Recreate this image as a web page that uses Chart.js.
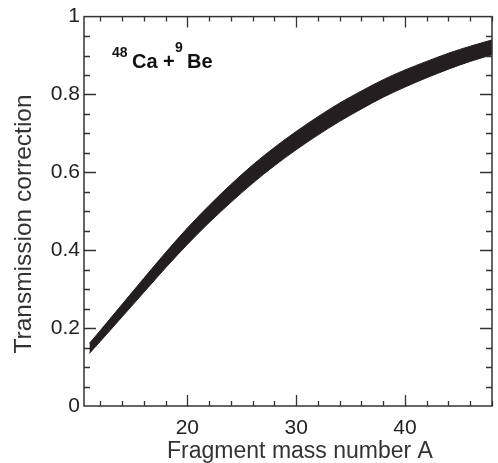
<!DOCTYPE html>
<html>
<head>
<meta charset="utf-8">
<script src="https://cdn.jsdelivr.net/npm/chart.js@4"></script>
<style>
  html, body { margin: 0; padding: 0; background: #fff; }
  #wrap { width: 498px; height: 463px; position: relative; }
</style>
</head>
<body>
<div id="wrap"><canvas id="chart"></canvas></div>
<script>
// values
const massA     = [11, 12, 14, 16, 18, 20, 22, 24, 26, 28, 30, 32, 34, 36, 38, 40, 42, 44, 46, 48];
const bandLower = [0.135, 0.166, 0.229, 0.292, 0.355, 0.415, 0.471, 0.523, 0.572, 0.617, 0.658, 0.696, 0.731, 0.763, 0.793, 0.819, 0.843, 0.865, 0.885, 0.902];
const bandUpper = [0.161, 0.194, 0.261, 0.328, 0.394, 0.457, 0.515, 0.569, 0.619, 0.664, 0.705, 0.743, 0.778, 0.809, 0.838, 0.863, 0.885, 0.906, 0.924, 0.940];
const xMajor = [20, 30, 40];
const yMajor = [0, 0.2, 0.4, 0.6, 0.8, 1];
const xTitle = "Fragment mass number A";
const yTitle = "Transmission correction";

const INK = "#231f20";
const AXIS = "#333";
const FONT = "'Liberation Sans', Arial, Helvetica, sans-serif";

// inward ticks on all four sides, axis titles, reaction label
const tickPlugin = {
  id: "inTicks",
  afterDraw(chart) {
    const { ctx, chartArea: a, scales: { x, y } } = chart;
    ctx.save();
    ctx.strokeStyle = AXIS;
    ctx.lineWidth = 1.3;
    ctx.beginPath();
    for (let v = 12; v <= 48; v += 2) {
      const px = Math.round(x.getPixelForValue(v)) + 0.5;
      const len = xMajor.includes(v) ? 11 : 5;
      ctx.moveTo(px, a.bottom); ctx.lineTo(px, a.bottom - len);
      ctx.moveTo(px, a.top);    ctx.lineTo(px, a.top + len);
    }
    for (let i = 1; i < 20; i++) {
      const py = Math.round(y.getPixelForValue(i * 0.05)) + 0.5;
      const len = i % 4 === 0 ? 12 : 6;
      ctx.moveTo(a.left, py);  ctx.lineTo(a.left + len, py);
      ctx.moveTo(a.right, py); ctx.lineTo(a.right - len, py);
    }
    ctx.stroke();
    ctx.lineWidth = 1.5;
    ctx.strokeRect(a.left, a.top, a.right - a.left, a.bottom - a.top);

    // axis titles (sit a little off-centre in the original)
    ctx.fillStyle = "#333";
    ctx.textAlign = "center";
    ctx.textBaseline = "middle";
    ctx.font = "23px " + FONT;
    ctx.fillText(xTitle, 300, 452);
    ctx.save();
    ctx.translate(24, 224);
    ctx.rotate(-Math.PI / 2);
    ctx.font = "24.5px " + FONT;
    ctx.fillText(yTitle, 0, 0);
    ctx.restore();

    ctx.fillStyle = "#111";
    ctx.textAlign = "left";
    ctx.textBaseline = "alphabetic";
    ctx.font = "bold 14px " + FONT;
    ctx.fillText("48", 112, 57);
    ctx.font = "bold 20px " + FONT;
    ctx.fillText("Ca +", 132, 68);
    ctx.font = "bold 14px " + FONT;
    ctx.fillText("9", 175, 52);
    ctx.font = "bold 20px " + FONT;
    ctx.fillText("Be", 187, 68);
    ctx.restore();
  }
};

new Chart(document.getElementById("chart"), {
  type: "line",
  data: {
    datasets: [
      {
        data: massA.map((a, i) => ({ x: a, y: bandLower[i] })),
        borderColor: INK, backgroundColor: INK, borderWidth: 1,
        pointRadius: 0, cubicInterpolationMode: "monotone", fill: false
      },
      {
        data: massA.map((a, i) => ({ x: a, y: bandUpper[i] })),
        borderColor: INK, backgroundColor: INK, borderWidth: 1,
        pointRadius: 0, cubicInterpolationMode: "monotone", fill: "-1"
      }
    ]
  },
  options: {
    responsive: true,
    maintainAspectRatio: false,
    animation: false,
    layout: { padding: { top: 14, right: 6, left: 0, bottom: 0 } },
    plugins: { legend: { display: false }, tooltip: { enabled: false } },
    scales: {
      x: {
        type: "linear", min: 10.5, max: 48,
        afterBuildTicks: s => { s.ticks = xMajor.map(v => ({ value: v })); },
        afterFit: s => { s.height = 57; },
        grid: { display: false, drawTicks: false },
        border: { display: false },
        ticks: { color: "#222", font: { family: FONT, size: 21 }, padding: 10,
                 callback: v => String(v) },
        title: { display: false, text: xTitle }
      },
      y: {
        type: "linear", min: 0, max: 1,
        afterBuildTicks: s => { s.ticks = yMajor.map(v => ({ value: v })); },
        afterFit: s => { s.width = 84; },
        grid: { display: false, drawTicks: false },
        border: { display: false },
        ticks: { color: "#222", font: { family: FONT, size: 21 }, padding: 4,
                 callback: v => String(v) },
        title: { display: false, text: yTitle }
      }
    }
  },
  plugins: [tickPlugin]
});
</script>
</body>
</html>
